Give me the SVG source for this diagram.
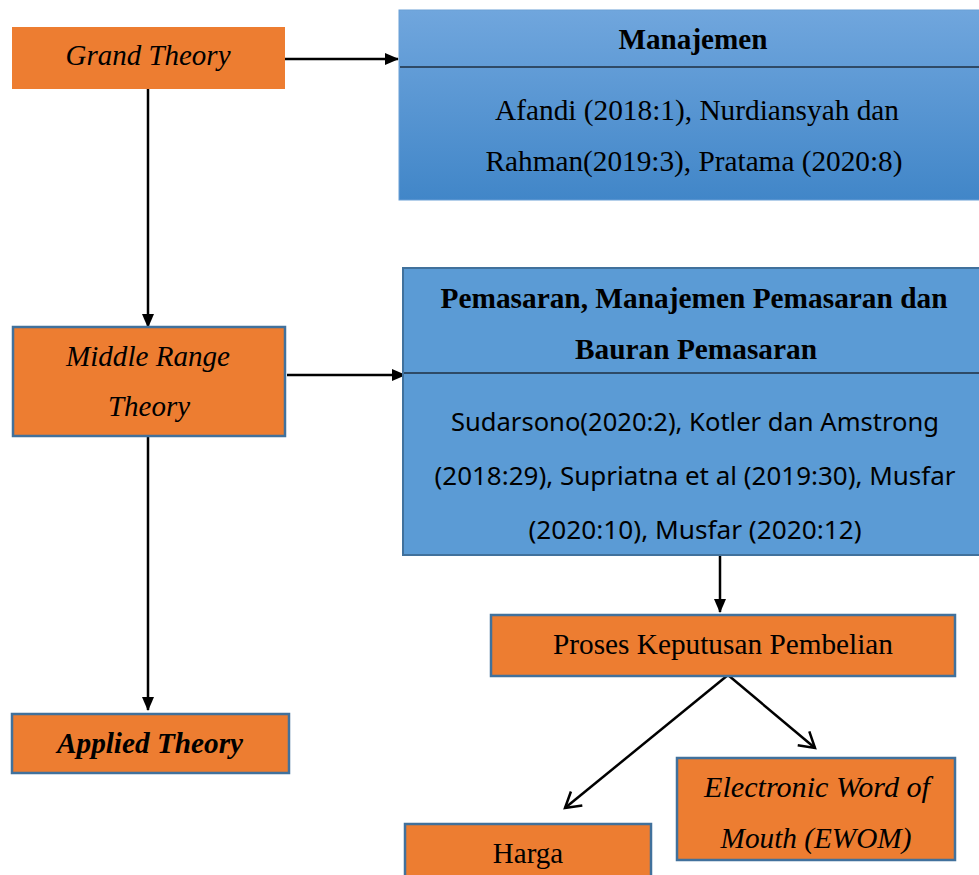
<svg xmlns="http://www.w3.org/2000/svg" width="979" height="875" viewBox="0 0 979 875">
<style>
.or{fill:#ed7d31;stroke:#41719c;stroke-width:2.5}
.t{font-family:"Liberation Serif","Times New Roman",serif;font-size:29px;fill:#000;text-anchor:middle}
.i{font-style:italic}
.b{font-weight:bold}
.s{font-family:"Noto Sans","Open Sans",sans-serif;font-size:26px;fill:#000;text-anchor:middle}
.ln{stroke:#000;stroke-width:2.5;fill:none}
</style>
<defs>
<linearGradient id="g1" x1="0" y1="0" x2="0" y2="1">
<stop offset="0" stop-color="#70a6dd"/>
<stop offset="1" stop-color="#4186c8"/>
</linearGradient>
<marker id="af" markerWidth="14" markerHeight="14" refX="13" refY="7" orient="auto" markerUnits="userSpaceOnUse" viewBox="0 0 14 14">
<path d="M0,1 L14,7 L0,13 z" fill="#000"/>
</marker>
<marker id="ao" markerWidth="22" markerHeight="22" refX="19" refY="11" orient="auto" markerUnits="userSpaceOnUse" viewBox="0 0 22 22">
<path d="M4,2 L19,11 L4,20" fill="none" stroke="#000" stroke-width="2.5"/>
</marker>
</defs>
<g id="connectors">
<line class="ln" x1="285" y1="59" x2="398" y2="59" marker-end="url(#af)"/>
<line class="ln" x1="148" y1="89" x2="148" y2="327" marker-end="url(#af)"/>
<line class="ln" x1="287" y1="375" x2="405" y2="375" marker-end="url(#af)"/>
<line class="ln" x1="148" y1="436" x2="148" y2="710" marker-end="url(#af)"/>
<line class="ln" x1="720" y1="555" x2="720" y2="612" marker-end="url(#af)"/>
<line class="ln" x1="728" y1="675" x2="565" y2="808" marker-end="url(#ao)"/>
<line class="ln" x1="728" y1="675" x2="815" y2="748" marker-end="url(#ao)"/>
</g>
<g id="grand">
<rect x="12" y="27" width="273" height="62" fill="#ed7d31"/>
<text class="t i" x="148" y="65" textLength="165" lengthAdjust="spacingAndGlyphs">Grand Theory</text>
</g>
<g id="manajemen">
<rect x="399" y="10" width="582" height="190" fill="url(#g1)" stroke="#6a9fd6" stroke-width="1"/>
<line x1="400" y1="67" x2="981" y2="67" stroke="#1f2f40" stroke-width="1.5"/>
<text class="t b" x="693" y="49" textLength="149" lengthAdjust="spacingAndGlyphs">Manajemen</text>
<text class="t" x="697" y="120" textLength="404" lengthAdjust="spacingAndGlyphs">Afandi (2018:1), Nurdiansyah dan</text>
<text class="t" x="694" y="171" textLength="417" lengthAdjust="spacingAndGlyphs">Rahman(2019:3), Pratama (2020:8)</text>
</g>
<g id="middle">
<rect class="or" x="13" y="327" width="272" height="109"/>
<text class="t i" x="148" y="366" textLength="164" lengthAdjust="spacingAndGlyphs">Middle Range</text>
<text class="t i" x="149" y="416" textLength="82" lengthAdjust="spacingAndGlyphs">Theory</text>
</g>
<g id="pemasaran">
<rect x="403" y="268" width="580" height="287" fill="#5b9bd5" stroke="#41719c" stroke-width="2"/>
<line x1="404" y1="373" x2="981" y2="373" stroke="#1f2f40" stroke-width="1.5"/>
<text class="t b" x="694" y="308" textLength="507" lengthAdjust="spacingAndGlyphs">Pemasaran, Manajemen Pemasaran dan</text>
<text class="t b" x="696" y="359" textLength="242" lengthAdjust="spacingAndGlyphs">Bauran Pemasaran</text>
<text class="s" x="695" y="431" textLength="488" lengthAdjust="spacingAndGlyphs">Sudarsono(2020:2), Kotler dan Amstrong</text>
<text class="s" x="695" y="485" textLength="521" lengthAdjust="spacingAndGlyphs">(2018:29), Supriatna et al (2019:30), Musfar</text>
<text class="s" x="695" y="539" textLength="333" lengthAdjust="spacingAndGlyphs">(2020:10), Musfar (2020:12)</text>
</g>
<g id="applied">
<rect class="or" x="12" y="714" width="277" height="59"/>
<text class="t i b" x="150" y="753" textLength="186" lengthAdjust="spacingAndGlyphs">Applied Theory</text>
</g>
<g id="proses">
<rect class="or" x="491" y="615" width="464" height="61"/>
<text class="t" x="723" y="654" textLength="340" lengthAdjust="spacingAndGlyphs">Proses Keputusan Pembelian</text>
</g>
<g id="harga">
<rect class="or" x="405" y="824" width="246" height="60"/>
<text class="t" x="528" y="863">Harga</text>
</g>
<g id="ewom">
<rect class="or" x="677" y="758" width="278" height="102"/>
<text class="t i" x="817" y="797" textLength="226" lengthAdjust="spacingAndGlyphs">Electronic Word of</text>
<text class="t i" x="816" y="848" textLength="191" lengthAdjust="spacingAndGlyphs">Mouth (EWOM)</text>
</g>
</svg>
